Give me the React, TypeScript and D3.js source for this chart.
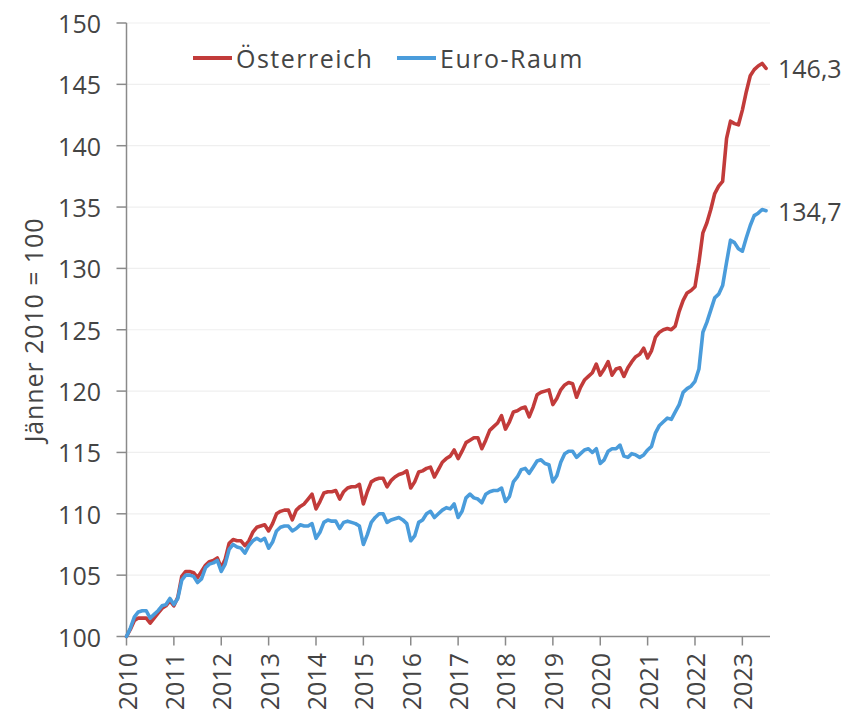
import React from "react";
import * as d3 from "d3";

// Jänner 2010 = 100, monthly Jan 2010 .. Jul 2023
const years = [2010, 2011, 2012, 2013, 2014, 2015, 2016, 2017, 2018, 2019, 2020, 2021, 2022, 2023];
const yTicks = [100, 105, 110, 115, 120, 125, 130, 135, 140, 145, 150];
const seriesNames = ["Österreich", "Euro-Raum"];

const austria = [
  100.0, 100.6, 101.3, 101.5, 101.5, 101.5, 101.1, 101.5, 101.9, 102.3, 102.5, 102.9,
  102.5, 103.2, 104.9, 105.3, 105.3, 105.2, 104.8, 105.3, 105.8, 106.1, 106.2, 106.4,
  105.6, 106.3, 107.6, 107.9, 107.8, 107.8, 107.4, 107.8, 108.5, 108.9, 109.0, 109.1,
  108.6, 109.2, 110.0, 110.2, 110.3, 110.3, 109.5, 110.3, 110.6, 110.8, 111.2, 111.6,
  110.4, 111.0, 111.7, 111.8, 111.8, 111.9, 111.2, 111.8, 112.1, 112.2, 112.2, 112.4,
  110.8, 111.8, 112.6, 112.8, 112.9, 112.9, 112.2, 112.7, 113.0, 113.2, 113.3, 113.5,
  112.1, 112.6, 113.4, 113.5, 113.7, 113.8, 113.0, 113.6, 114.2, 114.5, 114.7, 115.2,
  114.5, 115.1, 115.8, 116.0, 116.2, 116.2, 115.3, 116.0, 116.8, 117.1, 117.4, 118.0,
  116.9, 117.5, 118.3, 118.4, 118.6, 118.7, 117.9, 118.7, 119.7, 119.9, 120.0, 120.1,
  118.9, 119.4, 120.1, 120.5, 120.7, 120.6, 119.5, 120.3, 120.9, 121.2, 121.5, 122.2,
  121.3, 121.8, 122.4, 121.3, 121.8, 121.9, 121.2, 121.9, 122.4, 122.8, 123.0, 123.5,
  122.7, 123.3, 124.4, 124.8, 125.0, 125.1, 125.0, 125.3, 126.5, 127.4, 128.0, 128.2,
  128.5, 130.5, 132.9, 133.7, 134.8, 136.1, 136.7, 137.1, 140.6, 142.0, 141.8, 141.7,
  142.9, 144.4, 145.7, 146.2, 146.5, 146.7, 146.3,
];

const euroArea = [
  100.0, 100.7, 101.6, 102.0, 102.1, 102.1, 101.5, 101.8, 102.1, 102.5, 102.6, 103.1,
  102.6, 103.1, 104.6, 105.0, 105.0, 104.9, 104.4, 104.7, 105.6, 105.9, 106.0, 106.2,
  105.3, 105.9, 107.1, 107.5, 107.3, 107.2, 106.8, 107.4, 107.8, 108.0, 107.8, 108.0,
  107.2, 107.7, 108.6, 108.9, 109.0, 109.0, 108.6, 108.8, 109.1, 109.0, 109.0, 109.2,
  108.0, 108.5, 109.3, 109.5, 109.4, 109.4, 108.8, 109.3, 109.4, 109.3, 109.2, 109.0,
  107.5, 108.3, 109.3, 109.7, 110.0, 110.0, 109.3, 109.5, 109.6, 109.7, 109.5, 109.2,
  107.8, 108.2, 109.3, 109.5, 110.0, 110.2, 109.7, 110.0, 110.3, 110.5, 110.4, 110.8,
  109.7, 110.2, 111.3, 111.6, 111.3, 111.2, 110.9, 111.6, 111.8, 111.9, 111.9, 112.1,
  111.0, 111.4, 112.6, 113.0, 113.6, 113.7, 113.3, 113.8, 114.3, 114.4, 114.1, 114.0,
  112.6, 113.1, 114.2, 114.9, 115.1, 115.1, 114.6, 114.9, 115.2, 115.3, 115.0, 115.3,
  114.1, 114.4, 115.1, 115.3, 115.3, 115.6, 114.7, 114.6, 114.9, 114.8, 114.6, 114.8,
  115.2, 115.5, 116.6, 117.2, 117.5, 117.8, 117.7, 118.3, 118.9, 119.9, 120.2, 120.4,
  120.8, 121.8, 124.8, 125.6, 126.6, 127.6, 127.9, 128.6, 130.5, 132.3, 132.1, 131.6,
  131.4, 132.5, 133.5, 134.3, 134.5, 134.8, 134.7,
];

const colors = ["#C23B3A", "#4A9CDB"];
const FONT = "'Open Sans', 'DejaVu Sans', sans-serif";
const TEXT = "#444444";
const AXIS = "#8a8a8a";

export default function App() {
  const W = 853;
  const H = 713;
  const nMonths = austria.length;
  const x = d3.scaleLinear().domain([0, nMonths]).range([126.5, 770]);
  const y = d3.scaleLinear().domain([100, 150]).range([636.5, 23]);
  const line = d3
    .line<number>()
    .x((_, i) => x(i))
    .y((d) => y(d));
  const series = [austria, euroArea];
  const fmt = (v: number) => v.toFixed(1).replace(".", ",");

  return (
    <svg
      width={W}
      height={H}
      style={{ position: "absolute", left: 0, top: 0, background: "#fff" }}
      fontFamily={FONT}
    >
      {/* gridlines */}
      {yTicks.slice(1).map((t) => (
        <line key={"g" + t} x1={x(0)} x2={770} y1={y(t)} y2={y(t)} stroke="#efefef" strokeWidth={1.2} />
      ))}
      {/* y axis */}
      <line x1={x(0)} x2={x(0)} y1={y(150)} y2={y(100)} stroke={AXIS} strokeWidth={1.5} />
      {yTicks.map((t) => (
        <g key={"y" + t}>
          <line x1={x(0) - 10} x2={x(0)} y1={y(t)} y2={y(t)} stroke={AXIS} strokeWidth={1.5} />
          <text x={101} y={y(t)} textAnchor="end" dominantBaseline="central" fontSize={25} fill={TEXT}>
            {t}
          </text>
        </g>
      ))}
      {/* x axis */}
      <line x1={x(0)} x2={770} y1={y(100)} y2={y(100)} stroke={AXIS} strokeWidth={1.5} />
      {years.map((yr, i) => {
        const xi = x(i * 12);
        return (
          <g key={"x" + yr}>
            <line x1={xi} x2={xi} y1={y(100)} y2={y(100) + 9} stroke={AXIS} strokeWidth={1.5} />
            <text
              transform={`translate(${xi},653) rotate(-90)`}
              textAnchor="end"
              dominantBaseline="central"
              fontSize={25}
              fill={TEXT}
            >
              {yr}
            </text>
          </g>
        );
      })}
      {/* y title */}
      <text
        transform="translate(33,330) rotate(-90)"
        textAnchor="middle"
        dominantBaseline="central"
        fontSize={25}
        letterSpacing={0.9}
        fill={TEXT}
      >
        Jänner 2010 = 100
      </text>
      {/* lines */}
      {series.map((s, k) => (
        <path
          key={"s" + k}
          d={line(s) || ""}
          fill="none"
          stroke={colors[k]}
          strokeWidth={3.6}
          strokeLinejoin="round"
          strokeLinecap="round"
        />
      ))}
      {/* end labels */}
      {series.map((s, k) => (
        <text
          key={"e" + k}
          x={778}
          y={y(s[s.length - 1])}
          dominantBaseline="central"
          fontSize={25}
          fill={TEXT}
        >
          {fmt(s[s.length - 1])}
        </text>
      ))}
      {/* legend */}
      {seriesNames.map((n, k) => {
        const lx = k === 0 ? 193 : 397;
        return (
          <g key={"l" + k}>
            <line x1={lx} x2={lx + 39} y1={58} y2={58} stroke={colors[k]} strokeWidth={4} />
            <text
              x={lx + 43}
              y={58}
              dominantBaseline="central"
              fontSize={25}
              letterSpacing={1.5}
              fill={TEXT}
            >
              {n}
            </text>
          </g>
        );
      })}
    </svg>
  );
}
